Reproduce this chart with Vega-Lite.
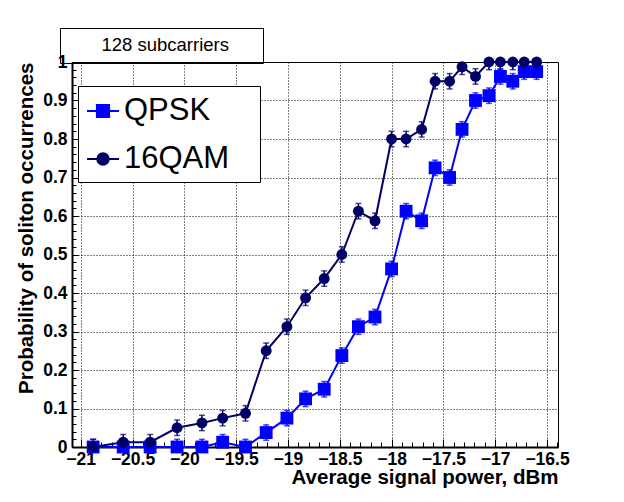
{
  "$schema": "https://vega.github.io/schema/vega-lite/v6.json",
  "width": 486,
  "height": 385,
  "autosize": {"type": "none"},
  "padding": {"left": 72, "top": 62, "right": 66, "bottom": 55},
  "background": "white",
  "config": {
    "view": {"stroke": "black", "strokeWidth": 1},
    "font": "Liberation Sans",
    "axis": {
      "labelFont": "Liberation Sans",
      "labelFontWeight": "bold",
      "labelFontSize": 17.5,
      "labelColor": "black",
      "titleFont": "Liberation Sans",
      "titleFontWeight": "bold",
      "titleFontSize": 20.5,
      "titleColor": "black",
      "domainColor": "black",
      "tickColor": "black",
      "gridColor": "black",
      "gridOpacity": 1,
      "gridDash": [1, 2],
      "gridWidth": 1
    }
  },
  "datasets": {
    "main": [
      {"mod": "QPSK", "x": -20.88, "p": 0, "err": 0.02},
      {"mod": "QPSK", "x": -20.59, "p": 0, "err": 0.02},
      {"mod": "QPSK", "x": -20.33, "p": 0, "err": 0.02},
      {"mod": "QPSK", "x": -20.07, "p": 0, "err": 0.02},
      {"mod": "QPSK", "x": -19.83, "p": 0, "err": 0.02},
      {"mod": "QPSK", "x": -19.63, "p": 0.0125, "err": 0.02},
      {"mod": "QPSK", "x": -19.41, "p": 0, "err": 0.02},
      {"mod": "QPSK", "x": -19.21, "p": 0.0375, "err": 0.02},
      {"mod": "QPSK", "x": -19.01, "p": 0.075, "err": 0.02},
      {"mod": "QPSK", "x": -18.83, "p": 0.125, "err": 0.02},
      {"mod": "QPSK", "x": -18.65, "p": 0.15, "err": 0.02},
      {"mod": "QPSK", "x": -18.48, "p": 0.2375, "err": 0.02},
      {"mod": "QPSK", "x": -18.32, "p": 0.3125, "err": 0.02},
      {"mod": "QPSK", "x": -18.16, "p": 0.3375, "err": 0.02},
      {"mod": "QPSK", "x": -18.0, "p": 0.4625, "err": 0.02},
      {"mod": "QPSK", "x": -17.86, "p": 0.6125, "err": 0.02},
      {"mod": "QPSK", "x": -17.71, "p": 0.5875, "err": 0.02},
      {"mod": "QPSK", "x": -17.58, "p": 0.725, "err": 0.02},
      {"mod": "QPSK", "x": -17.44, "p": 0.7, "err": 0.02},
      {"mod": "QPSK", "x": -17.32, "p": 0.825, "err": 0.02},
      {"mod": "QPSK", "x": -17.19, "p": 0.9, "err": 0.02},
      {"mod": "QPSK", "x": -17.06, "p": 0.9125, "err": 0.02},
      {"mod": "QPSK", "x": -16.95, "p": 0.9625, "err": 0.02},
      {"mod": "QPSK", "x": -16.83, "p": 0.95, "err": 0.02},
      {"mod": "QPSK", "x": -16.72, "p": 0.975, "err": 0.02},
      {"mod": "QPSK", "x": -16.6, "p": 0.975, "err": 0.02},
      {"mod": "16QAM", "x": -20.88, "p": 0, "err": 0.02},
      {"mod": "16QAM", "x": -20.59, "p": 0.0125, "err": 0.02},
      {"mod": "16QAM", "x": -20.33, "p": 0.0125, "err": 0.02},
      {"mod": "16QAM", "x": -20.07, "p": 0.05, "err": 0.02},
      {"mod": "16QAM", "x": -19.83, "p": 0.0625, "err": 0.02},
      {"mod": "16QAM", "x": -19.63, "p": 0.075, "err": 0.02},
      {"mod": "16QAM", "x": -19.41, "p": 0.0875, "err": 0.02},
      {"mod": "16QAM", "x": -19.21, "p": 0.25, "err": 0.02},
      {"mod": "16QAM", "x": -19.01, "p": 0.3125, "err": 0.02},
      {"mod": "16QAM", "x": -18.83, "p": 0.3875, "err": 0.02},
      {"mod": "16QAM", "x": -18.65, "p": 0.4375, "err": 0.02},
      {"mod": "16QAM", "x": -18.48, "p": 0.5, "err": 0.02},
      {"mod": "16QAM", "x": -18.32, "p": 0.6125, "err": 0.02},
      {"mod": "16QAM", "x": -18.16, "p": 0.5875, "err": 0.02},
      {"mod": "16QAM", "x": -18.0, "p": 0.8, "err": 0.02},
      {"mod": "16QAM", "x": -17.86, "p": 0.8, "err": 0.02},
      {"mod": "16QAM", "x": -17.71, "p": 0.825, "err": 0.02},
      {"mod": "16QAM", "x": -17.58, "p": 0.95, "err": 0.02},
      {"mod": "16QAM", "x": -17.44, "p": 0.95, "err": 0.02},
      {"mod": "16QAM", "x": -17.32, "p": 0.9875, "err": 0.02},
      {"mod": "16QAM", "x": -17.19, "p": 0.9625, "err": 0.02},
      {"mod": "16QAM", "x": -17.06, "p": 1, "err": 0.02},
      {"mod": "16QAM", "x": -16.95, "p": 1, "err": 0.02},
      {"mod": "16QAM", "x": -16.83, "p": 1, "err": 0.02},
      {"mod": "16QAM", "x": -16.72, "p": 1, "err": 0.02},
      {"mod": "16QAM", "x": -16.6, "p": 1, "err": 0.02}
    ],
    "note": [{"note": "128 subcarriers"}]
  },
  "layer": [
    {
      "data": {"name": "main"},
      "mark": {"type": "line", "strokeWidth": 2},
      "encoding": {
        "x": {
          "field": "x", "type": "quantitative",
          "scale": {"domain": [-21.084, -16.394], "nice": false, "zero": false},
          "axis": {"orient": "bottom", "tickCount": 47, "labels": false, "grid": false, "domain": false, "tickSize": -5, "tickWidth": 1, "title": null}
        },
        "y": {
          "field": "p", "type": "quantitative",
          "scale": {"domain": [0, 1], "nice": false, "zero": false},
          "axis": {"orient": "left", "tickCount": 50, "labels": false, "grid": false, "domain": false, "tickSize": -4, "tickWidth": 1, "title": null}
        },
        "color": {
          "field": "mod", "type": "nominal",
          "scale": {"domain": ["QPSK", "16QAM"], "range": ["#0000ff", "#000066"]},
          "legend": {
            "orient": "none", "legendX": 6, "legendY": 24, "title": null, "direction": "vertical",
            "padding": 8, "rowPadding": 16, "strokeColor": "black", "fillColor": "white",
            "symbolSize": 1024, "symbolOffset": 0, "labelOffset": 4,
            "labelFont": "Liberation Sans", "labelFontSize": 31, "labelFontWeight": "normal", "labelColor": "black", "labelLimit": 400,
            "encode": {"symbols": {"update": {
              "shape": {"signal": "datum.value === 'QPSK' ? 'M-1,0H1M-0.38,-0.38H0.38V0.38H-0.38ZM9.05,0' : 'M-1,0H1M0.36,0A0.36,0.36,0,1,1,-0.36,0A0.36,0.36,0,1,1,0.36,0ZM9.05,0'"},
              "fill": {"scale": "color", "field": "value"},
              "stroke": {"scale": "color", "field": "value"},
              "strokeWidth": {"value": 2},
              "opacity": {"value": 1}
            }}}
          }
        }
      }
    },
    {
      "data": {"name": "main"},
      "mark": {"type": "errorbar", "ticks": {"size": 6}, "thickness": 1.5, "clip": true},
      "encoding": {
        "x": {"field": "x", "type": "quantitative", "axis": null},
        "y": {"field": "p", "type": "quantitative", "axis": null},
        "yError": {"field": "err"},
        "color": {
          "field": "mod", "type": "nominal",
          "legend": {
            "orient": "none", "legendX": 6, "legendY": 24, "title": null, "direction": "vertical",
            "padding": 8, "rowPadding": 16, "strokeColor": "black", "fillColor": "white",
            "symbolSize": 1024, "symbolOffset": 0, "labelOffset": 4,
            "labelFont": "Liberation Sans", "labelFontSize": 31, "labelFontWeight": "normal", "labelColor": "black", "labelLimit": 400,
            "encode": {"symbols": {"update": {
              "shape": {"signal": "datum.value === 'QPSK' ? 'M-1,0H1M-0.38,-0.38H0.38V0.38H-0.38ZM9.05,0' : 'M-1,0H1M0.36,0A0.36,0.36,0,1,1,-0.36,0A0.36,0.36,0,1,1,0.36,0ZM9.05,0'"},
              "fill": {"scale": "color", "field": "value"},
              "stroke": {"scale": "color", "field": "value"},
              "strokeWidth": {"value": 2},
              "opacity": {"value": 1}
            }}}
          }
        }
      }
    },
    {
      "data": {"name": "main"},
      "transform": [{"filter": "datum.mod === 'QPSK'"}],
      "mark": {"type": "point", "filled": true, "opacity": 1, "shape": "square", "size": 165},
      "encoding": {
        "x": {
          "field": "x", "type": "quantitative",
          "axis": {"orient": "bottom", "tickCount": 10, "format": "~g", "tickSize": -8, "tickWidth": 1, "domainWidth": 2, "labelPadding": 11, "grid": true, "title": "Average signal power, dBm", "titleAnchor": "end", "titlePadding": 0}
        },
        "y": {
          "field": "p", "type": "quantitative",
          "axis": {"orient": "left", "tickCount": 10, "format": "~g", "tickSize": -6, "tickWidth": 1, "domainWidth": 2, "labelPadding": 11, "grid": true, "title": "Probability of soliton occurrences", "titleAnchor": "end", "titlePadding": 6}
        },
        "color": {
          "field": "mod", "type": "nominal",
          "legend": {
            "orient": "none", "legendX": 6, "legendY": 24, "title": null, "direction": "vertical",
            "padding": 8, "rowPadding": 16, "strokeColor": "black", "fillColor": "white",
            "symbolSize": 1024, "symbolOffset": 0, "labelOffset": 4,
            "labelFont": "Liberation Sans", "labelFontSize": 31, "labelFontWeight": "normal", "labelColor": "black", "labelLimit": 400,
            "encode": {"symbols": {"update": {
              "shape": {"signal": "datum.value === 'QPSK' ? 'M-1,0H1M-0.38,-0.38H0.38V0.38H-0.38ZM9.05,0' : 'M-1,0H1M0.36,0A0.36,0.36,0,1,1,-0.36,0A0.36,0.36,0,1,1,0.36,0ZM9.05,0'"},
              "fill": {"scale": "color", "field": "value"},
              "stroke": {"scale": "color", "field": "value"},
              "strokeWidth": {"value": 2},
              "opacity": {"value": 1}
            }}}
          }
        }
      }
    },
    {
      "data": {"name": "main"},
      "transform": [{"filter": "datum.mod === '16QAM'"}],
      "mark": {"type": "point", "filled": true, "opacity": 1, "shape": "circle", "size": 120},
      "encoding": {
        "x": {"field": "x", "type": "quantitative", "axis": null},
        "y": {"field": "p", "type": "quantitative", "axis": null},
        "color": {
          "field": "mod", "type": "nominal",
          "legend": {
            "orient": "none", "legendX": 6, "legendY": 24, "title": null, "direction": "vertical",
            "padding": 8, "rowPadding": 16, "strokeColor": "black", "fillColor": "white",
            "symbolSize": 1024, "symbolOffset": 0, "labelOffset": 4,
            "labelFont": "Liberation Sans", "labelFontSize": 31, "labelFontWeight": "normal", "labelColor": "black", "labelLimit": 400,
            "encode": {"symbols": {"update": {
              "shape": {"signal": "datum.value === 'QPSK' ? 'M-1,0H1M-0.38,-0.38H0.38V0.38H-0.38ZM9.05,0' : 'M-1,0H1M0.36,0A0.36,0.36,0,1,1,-0.36,0A0.36,0.36,0,1,1,0.36,0ZM9.05,0'"},
              "fill": {"scale": "color", "field": "value"},
              "stroke": {"scale": "color", "field": "value"},
              "strokeWidth": {"value": 2},
              "opacity": {"value": 1}
            }}}
          }
        }
      }
    },
    {
      "data": {"name": "note"},
      "mark": {"type": "point", "filled": true, "opacity": 0},
      "encoding": {
        "fill": {
          "field": "note", "type": "nominal",
          "scale": {"range": ["white"]},
          "legend": {
            "orient": "none", "legendX": -12, "legendY": -34, "title": null,
            "padding": 8, "strokeColor": "black", "fillColor": "transparent",
            "symbolSize": 1, "symbolOffset": 0, "symbolType": "M0,0M355,0", "labelOffset": 15,
            "labelFont": "Liberation Sans", "labelFontSize": 18.5, "labelFontWeight": "normal", "labelColor": "black", "labelLimit": 400
          }
        }
      }
    }
  ],
  "resolve": {"axis": {"x": "independent", "y": "independent"}}
}
